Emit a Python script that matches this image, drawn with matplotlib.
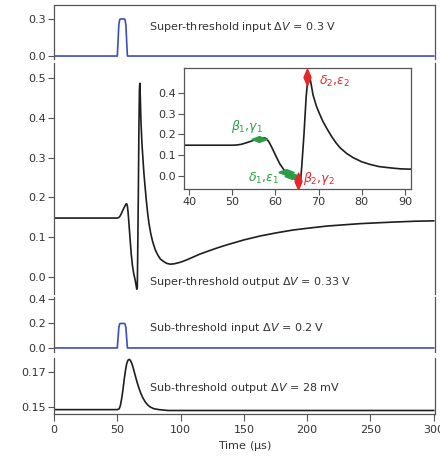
import numpy as np
import matplotlib
matplotlib.use("Agg")
import matplotlib.pyplot as plt

# ---- data ----
# input pulses (time in us, voltage in V)
pulse_t = [0, 50, 50.6, 51.2, 51.9, 52.6, 55.4, 56.1, 56.8, 57.4, 58, 300]
super_in_v = [0, 0, 0.12, 0.25, 0.295, 0.3, 0.3, 0.295, 0.25, 0.12, 0, 0]
sub_in_v = [0, 0, 0.08, 0.165, 0.197, 0.2, 0.2, 0.197, 0.165, 0.08, 0, 0]

# super-threshold output
out_t = [0, 50, 51, 52, 53, 54, 55, 56, 56.8, 57.4, 58, 58.6, 59.2, 60, 61,
         62, 63, 64, 64.8, 65.4, 65.8, 66.1, 66.6, 67.1, 67.5, 67.8, 68.2,
         68.7, 69.5, 70.3, 71, 71.8, 73, 74, 75, 76.5, 78, 80, 82, 84, 86.5,
         89, 92, 95, 100, 105, 110, 115, 121, 130, 137, 150, 163, 176, 189,
         202, 216, 229, 242, 255, 269, 285, 300]
out_v = [0.148, 0.148, 0.149, 0.152, 0.158, 0.165, 0.172, 0.178, 0.183, 0.184,
         0.178, 0.160, 0.135, 0.100, 0.058, 0.028, 0.008, -0.006, -0.020,
         -0.031, -0.028, 0.05, 0.20, 0.38, 0.47, 0.487, 0.45, 0.39, 0.335,
         0.295, 0.262, 0.232, 0.19, 0.16, 0.135, 0.108, 0.088, 0.068, 0.055,
         0.045, 0.039, 0.034, 0.032, 0.033, 0.037, 0.043, 0.050, 0.057, 0.064,
         0.074, 0.081, 0.093, 0.103, 0.111, 0.118, 0.123, 0.128, 0.131, 0.134,
         0.136, 0.138, 0.140, 0.141]

# sub-threshold output
sub_t = [0, 50, 51.5, 52.5, 53.5, 54.5, 55.5, 56.5, 57.5, 58.5, 59.5, 60.5,
         61.5, 62.5, 64, 65.5, 67, 68.5, 70, 72, 74, 76, 79, 83, 90, 300]
sub_v = [0.1485, 0.1485, 0.149, 0.151, 0.155, 0.160, 0.166, 0.171, 0.175,
         0.1768, 0.1772, 0.1765, 0.1748, 0.1725, 0.1685, 0.1645, 0.161,
         0.158, 0.1555, 0.153, 0.1512, 0.150, 0.149, 0.1485, 0.148, 0.148]

# marked points in the inset
green_t = [56.2, 62.5, 63.8]
green_v = [0.18, 0.02, 0.0]
red_t = [65.2, 67.4]
red_v = [-0.025, 0.475]

labels = [r"$\beta_1{,}\gamma_1$", r"$\delta_1{,}\varepsilon_1$",
          r"$\beta_2{,}\gamma_2$", r"$\delta_2{,}\varepsilon_2$"]

blue = "#3b4cc0"
dark = "#1e1e1e"
green = "#2a9d45"
red = "#e8262a"
spine_c = "#555555"
fs = 8

plt.rcParams["font.family"] = "DejaVu Sans"
plt.rcParams["mathtext.fontset"] = "dejavusans"

fig = plt.figure(figsize=(4.4, 4.61), dpi=100)
W, H = 440.0, 461.0


def box(x0, y0, x1, y1):
    return [x0 / W, 1 - y1 / H, (x1 - x0) / W, (y1 - y0) / H]


def style(ax, top=False, bottom=False):
    for s in ["left", "right"]:
        ax.spines[s].set_color(spine_c)
        ax.spines[s].set_linewidth(0.9)
    ax.spines["top"].set_visible(top)
    ax.spines["bottom"].set_visible(bottom)
    for s in ["top", "bottom"]:
        ax.spines[s].set_color(spine_c)
        ax.spines[s].set_linewidth(0.9)
    ax.tick_params(axis="y", direction="out", length=4, width=0.8,
                   colors=spine_c, labelcolor="#333333", labelsize=fs, pad=2)
    ax.set_xlim(0, 301)
    if not bottom:
        ax.tick_params(axis="x", bottom=False, labelbottom=False)


ax1 = fig.add_axes(box(54, 5, 435, 59))
ax2 = fig.add_axes(box(54, 63, 435, 294))
ax3 = fig.add_axes(box(54, 297, 435, 352))
ax4 = fig.add_axes(box(54, 358, 435, 414))

ax1.plot(pulse_t, super_in_v, color=blue, lw=1.2)
style(ax1, top=True)
ax1.set_ylim(-0.024, 0.413)
ax1.set_yticks([0.0, 0.3])
ax1.set_yticklabels(["0.0", "0.3"])
ax1.text(75.2, 0.232, r"Super-threshold input $\Delta V$ = 0.3 V",
         fontsize=fs, va="center", color="#333333")

ax2.plot(out_t, out_v, color=dark, lw=1.2)
style(ax2)
ax2.set_ylim(-0.043, 0.538)
ax2.set_yticks([0.0, 0.1, 0.2, 0.3, 0.4, 0.5])
ax2.set_yticklabels(["0.0", "0.1", "0.2", "0.3", "0.4", "0.5"])
ax2.text(75.2, -0.012, r"Super-threshold output $\Delta V$ = 0.33 V",
         fontsize=fs, va="center", color="#333333")

ax3.plot(pulse_t, sub_in_v, color=blue, lw=1.2)
style(ax3)
ax3.set_ylim(-0.033, 0.416)
ax3.set_yticks([0.0, 0.2, 0.4])
ax3.set_yticklabels(["0.0", "0.2", "0.4"])
ax3.text(75.2, 0.161, r"Sub-threshold input $\Delta V$ = 0.2 V",
         fontsize=fs, va="center", color="#333333")

ax4.plot(sub_t, sub_v, color=dark, lw=1.2)
style(ax4, bottom=True)
ax4.set_ylim(0.146, 0.178)
ax4.set_yticks([0.15, 0.17])
ax4.set_yticklabels(["0.15", "0.17"])
ax4.set_xticks([0, 50, 100, 150, 200, 250, 300])
ax4.tick_params(axis="x", direction="out", length=5, width=0.8,
                colors=spine_c, labelcolor="#333333", labelsize=fs, pad=3)
ax4.text(75.2, 0.1607, r"Sub-threshold output $\Delta V$ = 28 mV",
         fontsize=fs, va="center", color="#333333")
ax4.set_xlabel(r"Time ($\mathregular{\mu}$s)", fontsize=fs, color="#333333",
               labelpad=3)

# inset
axi = fig.add_axes(box(184, 68, 411, 189))
axi.plot(out_t, out_v, color=dark, lw=1.2)
axi.set_xlim(38.8, 91.4)
axi.set_ylim(-0.063, 0.52)
axi.set_xticks([40, 50, 60, 70, 80, 90])
axi.set_yticks([0.0, 0.1, 0.2, 0.3, 0.4])
axi.set_yticklabels(["0.0", "0.1", "0.2", "0.3", "0.4"])
for s in axi.spines.values():
    s.set_color(spine_c)
    s.set_linewidth(0.9)
axi.tick_params(direction="out", length=4, width=0.8, colors=spine_c,
                labelcolor="#333333", labelsize=fs, pad=2)

wide = [(-1, 0), (0, 0.38), (1, 0), (0, -0.38), (-1, 0)]
tall = [(0, -1), (0.42, 0), (0, 1), (-0.42, 0), (0, -1)]
axi.plot(green_t, green_v, ls="none", marker=wide, markersize=11,
         color=green, zorder=5)
axi.plot(red_t, red_v, ls="none", marker=tall, markersize=12,
         color=red, zorder=5)

axi.text(57.2, 0.236, labels[0], color=green, fontsize=9, ha="right",
         va="center")
axi.text(60.8, -0.012, labels[1], color=green, fontsize=9, ha="right",
         va="center")
axi.text(66.4, -0.012, labels[2], color=red, fontsize=9, ha="left",
         va="center")
axi.text(70.0, 0.455, labels[3], color=red, fontsize=9, ha="left",
         va="center")

fig.savefig("out.png", dpi=100)
